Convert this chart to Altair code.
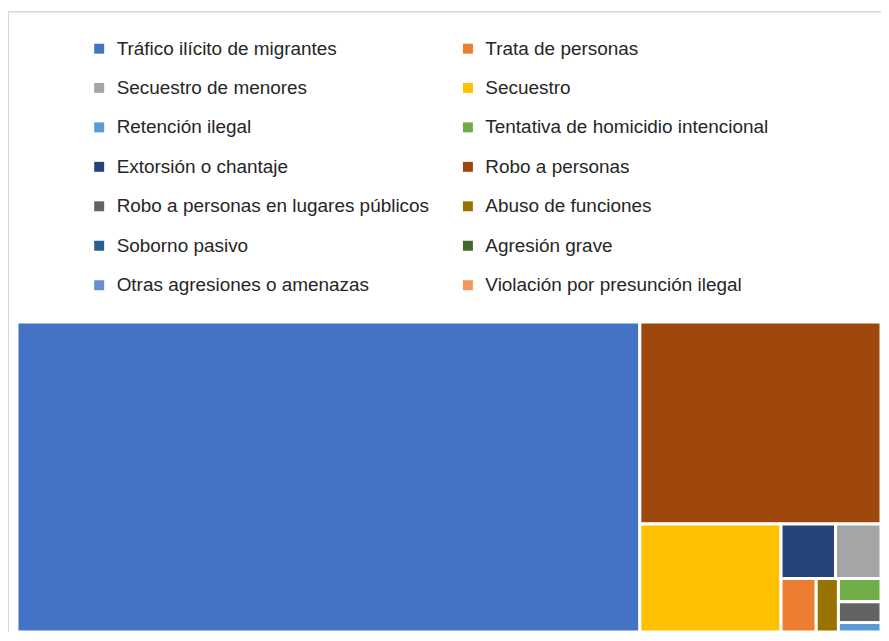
import altair as alt
import pandas as pd

# ---- data (legend reading order: row by row across two columns) ----
categories = [
    "Tráfico ilícito de migrantes", "Trata de personas",
    "Secuestro de menores", "Secuestro",
    "Retención ilegal", "Tentativa de homicidio intencional",
    "Extorsión o chantaje", "Robo a personas",
    "Robo a personas en lugares públicos", "Abuso de funciones",
    "Soborno pasivo", "Agresión grave",
    "Otras agresiones o amenazas", "Violación por presunción ilegal",
]
values = [1950, 19, 25, 154, 4, 10, 30, 492, 9, 12, 0, 0, 0, 0]
colors = [
    "#4472C4", "#ED7D31", "#A5A5A5", "#FFC000", "#5B9BD5", "#70AD47",
    "#264478", "#9E480E", "#636363", "#997300", "#255E91", "#43682B",
    "#698ED0", "#F1975A",
]

# legend fills column by column: reorder so it reads row by row
col_order = list(range(0, len(categories), 2)) + list(range(1, len(categories), 2))
leg_domain = [categories[i] for i in col_order]
leg_colors = [colors[i] for i in col_order]

# ---- treemap layout: binary partition of values sorted descending ----
TW, TH = 867.0, 311.0
items = sorted([(v, c) for c, v in zip(categories, values) if v > 0], key=lambda t: -t[0])
vals = [v for v, _ in items]
sums = [0.0]
for v in vals:
    sums.append(sums[-1] + v)
boxes = [None] * len(vals)


def part(i, j, value, x0, y0, x1, y1):
    if i >= j - 1:
        boxes[i] = (x0, y0, x1, y1)
        return
    off = sums[i]
    target = value / 2 + off
    k = i + 1
    while k < j - 1 and sums[k] < target:
        k += 1
    vl = sums[k] - off
    vr = value - vl
    if (x1 - x0) > (y1 - y0):
        xk = (x0 * vr + x1 * vl) / value
        part(i, k, vl, x0, y0, xk, y1)
        part(k, j, vr, xk, y0, x1, y1)
    else:
        yk = (y0 * vr + y1 * vl) / value
        part(i, k, vl, x0, y0, x1, yk)
        part(k, j, vr, x0, yk, x1, y1)


part(0, len(vals), sums[-1], 0.0, 0.0, TW, TH)

df = pd.DataFrame(
    [
        {"category": c, "value": v, "x0": b[0], "y0": b[1], "x1": b[2], "y1": b[3]}
        for (v, c), b in zip(items, boxes)
    ]
)

W, H = 876, 623

rects = alt.Chart(df).mark_rect(stroke="white", strokeWidth=3).encode(
    x=alt.X("x0:Q", scale=alt.Scale(domain=[0, TW], range=[9, 876], nice=False, zero=False), axis=None),
    x2="x1:Q",
    y=alt.Y("y0:Q", scale=alt.Scale(domain=[0, TH], range=[312, 623], nice=False, zero=False), axis=None),
    y2="y1:Q",
    color=alt.Color(
        "category:N",
        scale=alt.Scale(domain=leg_domain, range=leg_colors),
        legend=alt.Legend(
            title=None,
            orient="none",
            legendX=82,
            legendY=28,
            columns=2,
            symbolType="square",
            symbolSize=100,
            symbolStrokeWidth=0,
            labelFont="Liberation Sans",
            labelFontSize=19,
            labelColor="#262626",
            labelOffset=8,
            labelLimit=600,
            rowPadding=19.6,
            columnPadding=29,
            padding=0,
        ),
    ),
)

border_top = alt.Chart(df).mark_rule(color="#D9D9D9", strokeWidth=1).encode(
    x=alt.value(0), x2=alt.value(W), y=alt.value(0.5)
)
border_left = alt.Chart(df).mark_rule(color="#D9D9D9", strokeWidth=1).encode(
    x=alt.value(0.5), y=alt.value(0), y2=alt.value(H)
)

chart = (
    alt.layer(border_top, border_left, rects)
    .properties(
        width=W,
        height=H,
        autosize=alt.AutoSizeParams(type="none"),
        padding={"left": 0, "top": 2, "right": 0, "bottom": 0},
        background="white",
    )
    .configure_view(stroke=None)
)

chart.save("out.html", embed_options={"renderer": "svg", "actions": False})
